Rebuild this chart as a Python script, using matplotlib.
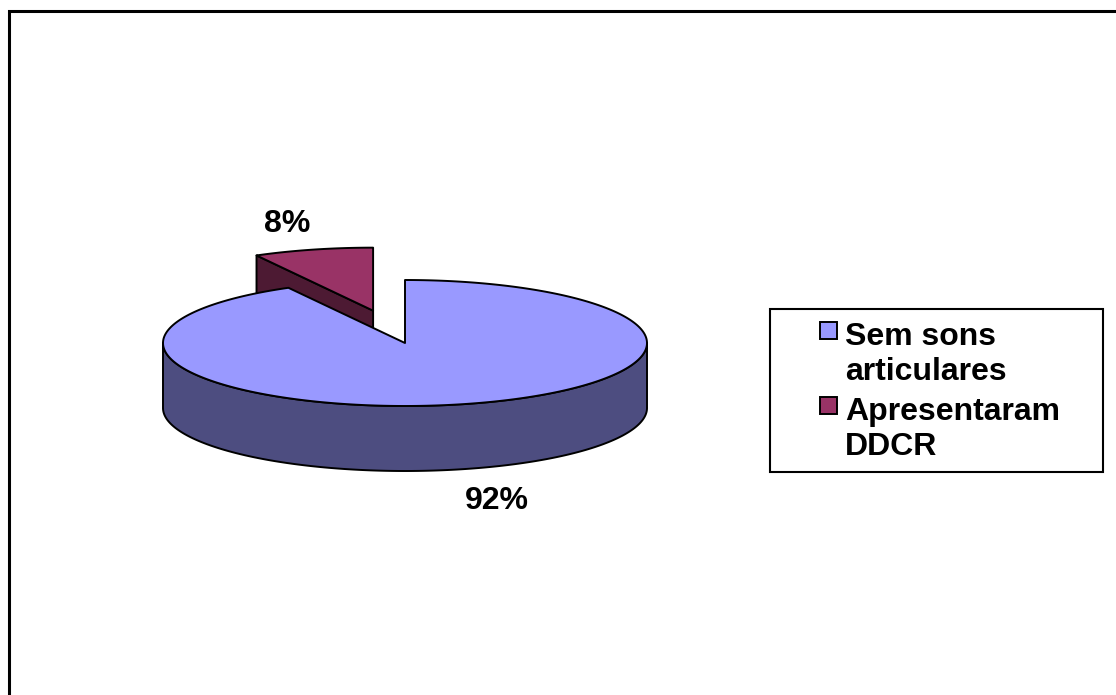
import numpy as np
import matplotlib.pyplot as plt
from matplotlib.patches import Polygon, Rectangle

plt.rcParams['font.family'] = ['Liberation Sans', 'DejaVu Sans']

labels = ['Sem sons\narticulares', 'Apresentaram\nDDCR']
values = [92, 8]
top_colors = ['#9999ff', '#993366']
side_colors = ['#4d4d80', '#4d1a33']
explode = [0.0, 0.53]

# 3D pie geometry (pixel space, y grows downward)
cx, cy = 405, 343
rx, ry = 242, 63
depth = 65

fig = plt.figure(figsize=(11.16, 6.95), dpi=100)
ax = fig.add_axes([0, 0, 1, 1])
ax.set_xlim(0, 1116)
ax.set_ylim(695, 0)
ax.axis('off')


def rim(t0, t1, ox, oy, dz=0.0, n=300):
    t = np.radians(np.linspace(t0, t1, n))
    return np.column_stack([ox + rx * np.cos(t), oy - ry * np.sin(t) + dz])


def front_ranges(lo, hi):
    # parts of [lo, hi] (degrees) where the outer wall faces the viewer
    out = []
    for k in range(-2, 3):
        a, b = -180 + 360 * k, 360 * k
        s, e = max(lo, a), min(hi, b)
        if e > s:
            out.append((s, e))
    return out


fracs = np.array(values, dtype=float) / sum(values)
ends = 90 - 360 * np.cumsum(fracs)
starts = np.concatenate([[90], ends[:-1]])
mids = (starts + ends) / 2

edge = dict(edgecolor='black', lw=1.4, joinstyle='round')
order = np.argsort(-np.sin(np.radians(mids)))
for i in order:
    t0, t1, m = starts[i], ends[i], mids[i]
    ox = cx + explode[i] * rx * np.cos(np.radians(m))
    oy = cy - explode[i] * ry * np.sin(np.radians(m))

    # cut faces
    for t, nd in ((t0, t0 + 90), (t1, t1 - 90)):
        if np.sin(np.radians(nd)) < -1e-6:
            p = rim(t, t, ox, oy, n=1)[0]
            face = [(ox, oy), tuple(p), (p[0], p[1] + depth), (ox, oy + depth)]
            ax.add_patch(Polygon(face, closed=True, facecolor=side_colors[i], **edge))

    # outer wall
    for s, e in front_ranges(t1, t0):
        upper = rim(s, e, ox, oy)
        lower = rim(e, s, ox, oy, depth)
        ax.add_patch(Polygon(np.vstack([upper, lower]), closed=True,
                             facecolor=side_colors[i], **edge))

    # top face
    top = np.vstack([[[ox, oy]], rim(t1, t0, ox, oy)])
    ax.add_patch(Polygon(top, closed=True, facecolor=top_colors[i], **edge))

    # percentage label
    k = 1.47
    lx = ox + k * rx * np.cos(np.radians(m)) + 3
    ly = oy - k * ry * np.sin(np.radians(m))
    if np.sin(np.radians(m)) < 0:
        ly += depth
    ax.text(lx, ly, f'{values[i]}%', ha='center', va='center_baseline',
            fontsize=23, fontweight='bold')

# legend
ax.add_patch(Rectangle((770, 309), 333, 163, facecolor='white',
                       edgecolor='black', lw=1.5))
entry_base = [345, 420]
line_step = 35
for i, lab in enumerate(labels):
    y0 = entry_base[i]
    ax.add_patch(Rectangle((820, y0 - 23), 17, 17, facecolor=top_colors[i],
                           edgecolor='black', lw=1.4))
    for j, line in enumerate(lab.split('\n')):
        ax.text(845, y0 + j * line_step, line, ha='left', va='baseline',
                fontsize=23, fontweight='bold')

# chart area border
ax.plot([9, 9, 1116], [695, 11, 11], color='black', lw=2.2,
        solid_joinstyle='miter')

fig.savefig('out.png', dpi=100)
